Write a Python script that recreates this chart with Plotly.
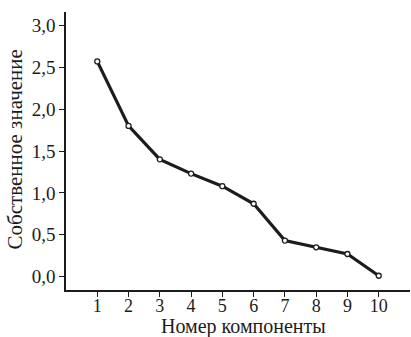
import plotly.graph_objects as go

components = [1, 2, 3, 4, 5, 6, 7, 8, 9, 10]
eigenvalues = [2.57, 1.80, 1.40, 1.23, 1.08, 0.87, 0.43, 0.35, 0.27, 0.01]
y_tickvals = [0.0, 0.5, 1.0, 1.5, 2.0, 2.5, 3.0]
y_ticktext = ["0,0", "0,5", "1,0", "1,5", "2,0", "2,5", "3,0"]
x_tickvals = components
x_ticktext = [str(c) for c in components]
x_title = "Номер компоненты"
y_title = "Собственное значение"

font_family = "Liberation Serif, Times New Roman, serif"
ink = "#1c1c1c"

fig = go.Figure()
fig.add_trace(go.Scatter(
    x=components, y=eigenvalues, mode="lines+markers",
    line=dict(color=ink, width=3.2),
    marker=dict(symbol="circle", size=5, color="white",
                line=dict(color=ink, width=1.3)),
    showlegend=False,
))

fig.update_layout(
    width=411, height=337,
    margin=dict(l=66, r=1, t=12, b=47),
    paper_bgcolor="white", plot_bgcolor="white",
    font=dict(family=font_family, color=ink, size=18),
)
fig.update_xaxes(
    range=[0, 11], tickvals=x_tickvals, ticktext=x_ticktext,
    showline=True, linecolor=ink, linewidth=1.5,
    ticks="outside", ticklen=5, tickwidth=1.3, tickcolor=ink,
    showgrid=False, zeroline=False, ticklabelstandoff=-6,
    tickfont=dict(size=18, family=font_family, color=ink),
)
fig.update_yaxes(
    range=[-0.16, 3.16], tickvals=y_tickvals, ticktext=y_ticktext,
    showline=True, linecolor=ink, linewidth=1.5,
    ticks="outside", ticklen=5, tickwidth=1.3, tickcolor=ink,
    showgrid=False, zeroline=False,
    tickfont=dict(size=19, family=font_family, color=ink),
)
fig.add_annotation(
    text=x_title, xref="paper", yref="paper", x=0.517, y=-0.131,
    xanchor="center", yanchor="middle", showarrow=False,
    font=dict(size=20, family=font_family, color=ink),
)
fig.add_annotation(
    text=y_title, xref="paper", yref="paper", x=-0.147, y=0.507,
    xanchor="center", yanchor="middle", showarrow=False, textangle=-90,
    font=dict(size=21, family=font_family, color=ink),
)

fig.write_html("out.html")
